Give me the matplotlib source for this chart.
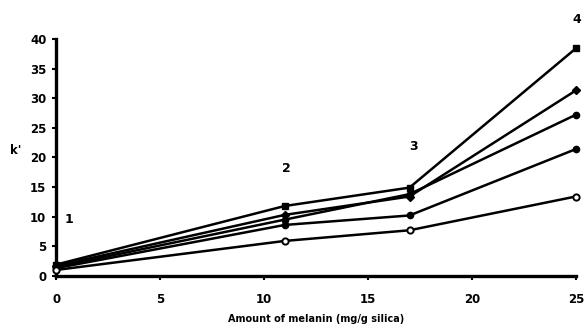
import matplotlib
matplotlib.use("Agg")
import matplotlib.pyplot as plt

# data
melanin = [0, 11, 17, 25]
k_square = [1.9, 11.8, 14.9, 38.4]
k_diamond = [1.7, 10.3, 13.4, 31.3]
k_circle1 = [1.5, 9.5, 13.8, 27.2]
k_circle2 = [1.3, 8.6, 10.2, 21.4]
k_open = [1.0, 5.9, 7.7, 13.4]

labels = ["1", "2", "3", "4"]
label_y = [9.5, 18.2, 21.8, 43.2]
label_x = [0.6, 11.1, 17.2, 25.05]

plt.rcParams["font.family"] = "DejaVu Sans"
plt.rcParams["font.weight"] = "bold"

fig = plt.figure(figsize=(5.84, 3.30), dpi=100)
ax = fig.add_axes([0.096, 0.164, 0.89, 0.718])

lw = 1.8
ax.plot(melanin, k_square, color="black", lw=lw, marker="s", ms=5, clip_on=False, zorder=3)
ax.plot(melanin, k_diamond, color="black", lw=lw, marker="D", ms=4, clip_on=False, zorder=3)
ax.plot(melanin, k_circle1, color="black", lw=lw, marker="o", ms=4.5, clip_on=False, zorder=3)
ax.plot(melanin, k_circle2, color="black", lw=lw, marker="o", ms=4.5, clip_on=False, zorder=3)
ax.plot(melanin, k_open, color="black", lw=lw, marker="o", ms=4.5, mfc="white", mew=1.4,
        clip_on=False, zorder=3)

for lab, x, y in zip(labels, label_x, label_y):
    ax.text(x, y, lab, fontsize=9, fontweight="bold", ha="center", va="center")

ax.set_xlim(0, 25)
ax.set_ylim(0, 40)
ax.set_xticks([0, 5, 10, 15, 20, 25])
ax.set_yticks(range(0, 41, 5))
ax.spines["top"].set_visible(False)
ax.spines["right"].set_visible(False)
ax.spines["left"].set_linewidth(2.4)
ax.spines["bottom"].set_linewidth(2.4)
ax.tick_params(width=1.5, length=3, labelsize=8.5, pad=4)
for t in ax.get_xticklabels() + ax.get_yticklabels():
    t.set_fontweight("bold")
ax.tick_params(axis="x", pad=9)

ax.set_xlabel("Amount of melanin (mg/g silica)", fontsize=7, fontweight="bold", labelpad=6)
ax.set_ylabel("k'", fontsize=8.5, fontweight="bold", rotation=0, labelpad=10)

fig.savefig("out.png", dpi=100)
